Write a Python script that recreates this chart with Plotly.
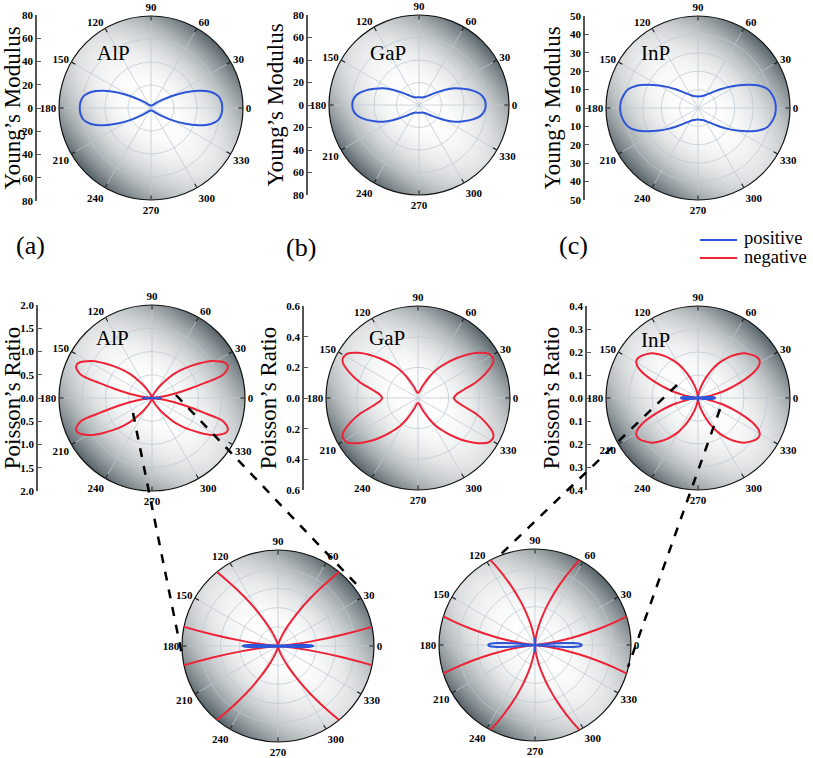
import numpy as np
import zlib
import struct
import base64
import plotly.graph_objects as go

W, H = 813, 758

# ---------------- data ----------------
angle_ticks = [0, 30, 60, 90, 120, 150, 180, 210, 240, 270, 300, 330]

# Young's modulus, first quadrant (curves are symmetric in the 4 quadrants)
young_theta = [0, 5, 10, 15, 20, 25, 30, 35, 40, 45, 50, 55, 60, 70, 80, 90]
alp_young = [62, 61.5, 59.5, 54, 44, 32, 21, 13, 8.5, 6, 4.5, 3.6, 3.0, 2.5, 2.2, 2.1]
gap_young = [59.3, 58.5, 55.5, 49.5, 42, 35, 27, 20, 15, 11.8, 9.8, 8.7, 8.0, 7.2, 6.9, 6.8]
inp_young = [42.3, 42, 41, 39.3, 35.5, 30, 24.5, 19.8, 15.8, 12.8, 10.6, 9.2, 8.2, 7.0, 6.5, 6.3]

# Poisson's ratio, AlP
alp_nu_theta = [3, 6, 8, 10, 12, 14, 16, 17, 18, 20, 22, 24, 26, 28, 32, 36, 40, 44, 48, 52, 56, 60, 64, 68, 72, 78, 84, 90]
alp_nu_neg = [0, 0.08, 0.2, 0.38, 0.6, 0.85, 1.2, 1.45, 1.6, 1.7, 1.76, 1.77, 1.74, 1.67, 1.5, 1.27, 1.06, 0.86, 0.675, 0.48, 0.33, 0.21, 0.13, 0.075, 0.04, 0.015, 0.004, 0]
alp_nu_pos_theta = [0, 1, 2, 3]
alp_nu_pos = [0.2, 0.17, 0.1, 0]

# Poisson's ratio, GaP
gap_nu_theta = [0, 5, 10, 15, 20, 25, 28, 32, 37, 42, 46, 51, 57, 62, 66, 71, 76, 83, 90]
gap_nu_neg = [0.233, 0.25, 0.3, 0.39, 0.47, 0.54, 0.555, 0.545, 0.49, 0.42, 0.36, 0.29, 0.22, 0.155, 0.107, 0.07, 0.045, 0.035, 0.033]

# Poisson's ratio, InP
inp_nu_theta = [6, 8, 10, 12, 14, 16, 18, 20, 22, 25, 28, 31, 34, 37, 40, 44, 48, 52, 56, 60, 64, 68, 72, 76, 80, 84, 90]
inp_nu_neg = [0, 0.02, 0.045, 0.07, 0.1, 0.13, 0.16, 0.19, 0.225, 0.27, 0.3, 0.313, 0.313, 0.306, 0.295, 0.28, 0.256, 0.23, 0.2, 0.17, 0.135, 0.1, 0.07, 0.045, 0.025, 0.01, 0]
inp_nu_pos_theta = [0, 1, 2, 3, 4, 5, 6]
inp_nu_pos = [0.073, 0.072, 0.068, 0.06, 0.045, 0.02, 0]
inp_nu_pos90_theta = [86, 88, 90]
inp_nu_pos90 = [0, 0.008, 0.011]

# left-hand value scales
young80_vals = [-80, -60, -40, -20, 0, 20, 40, 60, 80]
young80_text = ["80", "60", "40", "20", "0", "20", "40", "60", "80"]
young50_vals = [-50, -40, -30, -20, -10, 0, 10, 20, 30, 40, 50]
young50_text = ["50", "40", "30", "20", "10", "0", "10", "20", "30", "40", "50"]
nu20_vals = [-2.0, -1.5, -1.0, -0.5, 0, 0.5, 1.0, 1.5, 2.0]
nu20_text = ["2.0", "1.5", "1.0", "0.5", "0.0", "0.5", "1.0", "1.5", "2.0"]
nu06_vals = [-0.6, -0.4, -0.2, 0, 0.2, 0.4, 0.6]
nu06_text = ["0.6", "0.4", "0.2", "0.0", "0.2", "0.4", "0.6"]
nu04_vals = [-0.4, -0.3, -0.2, -0.1, 0, 0.1, 0.2, 0.3, 0.4]
nu04_text = ["0.4", "0.3", "0.2", "0.1", "0.0", "0.1", "0.2", "0.3", "0.4"]

BLUE = "rgb(45,85,215)"
RED = "rgb(238,35,55)"
GRID = "rgba(190,200,210,0.75)"
SERIF = "Liberation Serif, Times New Roman, serif"
TICKFONT = dict(family=SERIF, size=11, color="black", weight="bold")


def PX(px):
    return px / W


def PY(py):
    return 1 - py / H


def mirror(th, r):
    """Reflect first-quadrant samples into the four quadrants."""
    T, R = [], []
    segs = [(list(th), list(r)),
            ([180 - t for t in th[::-1]], list(r[::-1])),
            ([180 + t for t in th], list(r)),
            ([360 - t for t in th[::-1]], list(r[::-1]))]
    for ts, rs in segs:
        for t, v in zip(ts, rs):
            if T and abs(T[-1] - t) < 1e-9 and abs(R[-1] - v) < 1e-12:
                continue
            T.append(t)
            R.append(v)
    return T, R


def make_bg(n=320):
    yy, xx = np.mgrid[0:n, 0:n].astype(float)
    c = (n - 1) / 2.0
    dx = (xx - c) / (n / 2.0)
    dy = (c - yy) / (n / 2.0)
    t = np.sqrt(dx ** 2 + dy ** 2)
    ang = np.arctan2(dy, dx)
    a = 0.6 + 0.4 * np.sin(2 * ang)
    d = np.clip(t, 0, 1) ** 2.5 * a
    d = np.clip(d * 0.92, 0, 1)
    white = np.array([255.0, 255.0, 255.0])
    dark = np.array([70.0, 84.0, 90.0])
    rgb = white[None, None, :] * (1 - d[..., None]) + dark[None, None, :] * d[..., None]
    alpha = np.clip((1 - t) * n / 2.0 + 0.5, 0, 1) * 255
    img = np.dstack([rgb, alpha]).round().astype(np.uint8)
    raw = b"".join(b"\x00" + img[i].tobytes() for i in range(n))

    def chunk(tag, data):
        out = struct.pack(">I", len(data)) + tag + data
        return out + struct.pack(">I", zlib.crc32(tag + data) & 0xFFFFFFFF)

    png = (b"\x89PNG\r\n\x1a\n"
           + chunk(b"IHDR", struct.pack(">IIBBBBB", n, n, 8, 6, 0, 0, 0))
           + chunk(b"IDAT", zlib.compress(raw, 9))
           + chunk(b"IEND", b""))
    return "data:image/png;base64," + base64.b64encode(png).decode()


BG = make_bg()

# polar subplots: (name, cx, cy, R, rmax, ring values)
polars = [
    ("polar",  151, 108, 92, 80,  [20, 40, 60]),
    ("polar2", 419, 105, 90, 80,  [20, 40, 60]),
    ("polar3", 698, 108, 92, 50,  [10, 20, 30, 40]),
    ("polar4", 152, 398, 93, 2.0, [0.5, 1.0, 1.5]),
    ("polar5", 418, 398, 92, 0.6, [0.2, 0.4]),
    ("polar6", 698, 398, 92, 0.4, [0.1, 0.2, 0.3]),
    ("polar7", 278, 646, 96, 0.55, [0.11, 0.22, 0.33, 0.44]),
    ("polar8", 535, 645, 96, 0.15, [0.03, 0.06, 0.09, 0.12]),
]

fig = go.Figure()


def add_curve(sub, th, r, color, width=2):
    T, R = mirror(th, r)
    fig.add_trace(go.Scatterpolar(theta=T, r=R, mode="lines", subplot=sub,
                                  line=dict(color=color, width=width, shape="spline", smoothing=0.6),
                                  showlegend=False, hoverinfo="skip"))


add_curve("polar", young_theta, alp_young, BLUE)
add_curve("polar2", young_theta, gap_young, BLUE)
add_curve("polar3", young_theta, inp_young, BLUE)

add_curve("polar4", alp_nu_theta, alp_nu_neg, RED)
add_curve("polar4", alp_nu_pos_theta, alp_nu_pos, BLUE)
add_curve("polar5", gap_nu_theta, gap_nu_neg, RED)
add_curve("polar6", inp_nu_theta, inp_nu_neg, RED)
add_curve("polar6", inp_nu_pos_theta, inp_nu_pos, BLUE, 2.5)
add_curve("polar6", inp_nu_pos90_theta, inp_nu_pos90, BLUE)

add_curve("polar7", alp_nu_theta, alp_nu_neg, RED)
add_curve("polar7", alp_nu_pos_theta, alp_nu_pos, BLUE, 3)
add_curve("polar8", inp_nu_theta, inp_nu_neg, RED)
add_curve("polar8", inp_nu_pos_theta, inp_nu_pos, BLUE)
add_curve("polar8", inp_nu_pos90_theta, inp_nu_pos90, BLUE)

layout = dict(width=W, height=H, margin=dict(l=0, r=0, t=0, b=0),
              paper_bgcolor="white", plot_bgcolor="rgba(0,0,0,0)",
              template="none", showlegend=False)

images = []
for name, cx, cy, R, rmax, rings in polars:
    layout[name] = dict(
        domain=dict(x=[PX(cx - R), PX(cx + R)], y=[PY(cy + R), PY(cy - R)]),
        bgcolor="rgba(0,0,0,0)",
        radialaxis=dict(range=[0, rmax], tickvals=rings, showticklabels=False, ticks="",
                        showline=False, gridcolor=GRID, gridwidth=1, layer="below traces"),
        angularaxis=dict(tickvals=angle_ticks, ticktext=[str(a) for a in angle_ticks],
                         rotation=0, direction="counterclockwise", showline=True,
                         linecolor="#111", linewidth=1.2, ticks="inside", ticklen=4,
                         tickcolor="#111", gridcolor=GRID, gridwidth=1,
                         tickfont=TICKFONT, layer="below traces"),
    )
    images.append(dict(source=BG, xref="paper", yref="paper",
                       x=PX(cx - R), y=PY(cy - R),
                       sizex=2 * R / W, sizey=2 * R / H,
                       xanchor="left", yanchor="top", sizing="stretch", layer="below"))
layout["images"] = images

# left-hand value axes: (axis x px, cy, R, vals, text, max, title)
yaxes = [
    (37, 108, 93, young80_vals, young80_text, 80, "Young\u2019s Modulus"),
    (308, 105, 90, young80_vals, young80_text, 80, "Young\u2019s Modulus"),
    (585, 108, 92, young50_vals, young50_text, 50, "Young\u2019s Modulus"),
    (38, 398, 93, nu20_vals, nu20_text, 2.0, "Poisson\u2019s Ratio"),
    (304, 398, 92, nu06_vals, nu06_text, 0.6, "Poisson\u2019s Ratio"),
    (587, 398, 92, nu04_vals, nu04_text, 0.4, "Poisson\u2019s Ratio"),
]
for i, (ax, cy, R, vals, text, vmax, title) in enumerate(yaxes, start=1):
    sfx = "" if i == 1 else str(i)
    layout["xaxis" + sfx] = dict(domain=[PX(ax), PX(ax) + 0.01], range=[0, 1], visible=False,
                                 anchor="y" + sfx, fixedrange=True)
    layout["yaxis" + sfx] = dict(domain=[PY(cy + R), PY(cy - R)], anchor="x" + sfx,
                                 range=[-vmax, vmax], tickvals=vals, ticktext=text,
                                 side="left", showline=True, linecolor="#555", linewidth=1.5,
                                 ticks="inside", ticklen=4, tickcolor="#555", tickwidth=1.2,
                                 showgrid=False, zeroline=False, automargin=False,
                                 tickfont=TICKFONT, fixedrange=True,
                                 title=dict(text=title, standoff=3,
                                            font=dict(family=SERIF, size=23, color="black")))
    fig.add_trace(go.Scatter(x=[None], y=[None], xaxis="x" + sfx, yaxis="y" + sfx,
                             showlegend=False, hoverinfo="skip"))

annotations = []


def text_at(px, py, s, size, anchor="center"):
    annotations.append(dict(x=PX(px), y=PY(py), xref="paper", yref="paper", text=s,
                            showarrow=False, xanchor=anchor, yanchor="middle",
                            font=dict(family=SERIF, size=size, color="black")))


for px, py, s in [(113, 53, "AlP"), (388, 53, "GaP"), (655, 53, "InP"),
                  (112, 338, "AlP"), (387, 338, "GaP"), (655, 340, "InP")]:
    text_at(px, py, s, 21)
for px, py, s in [(31, 245, "(a)"), (301, 248, "(b)"), (573, 245, "(c)")]:
    text_at(px, py, s, 26)
text_at(742, 238, "positive", 18.5, "left")
text_at(742, 257, "negative", 18.5, "left")
layout["annotations"] = annotations

shapes = []


def seg(x0, y0, x1, y1, color, width, dash="solid"):
    shapes.append(dict(type="line", xref="paper", yref="paper",
                       x0=PX(x0), y0=PY(y0), x1=PX(x1), y1=PY(y1),
                       line=dict(color=color, width=width, dash=dash)))


seg(700, 240, 737, 240, BLUE, 2)
seg(700, 258, 737, 258, RED, 2)
seg(133, 413, 182, 655, "black", 2.5, "dash")
seg(176, 395, 357, 585, "black", 2.5, "dash")
seg(677, 385, 500, 555, "black", 2.5, "dash")
seg(720, 409, 628, 667, "black", 2.5, "dash")
layout["shapes"] = shapes

fig.update_layout(**layout)
# the page's default 8px body margin would shift and crop the 813x758 figure
fig.write_html("out.html", config={"displayModeBar": False},
               post_script="document.body.style.margin='0px';")
